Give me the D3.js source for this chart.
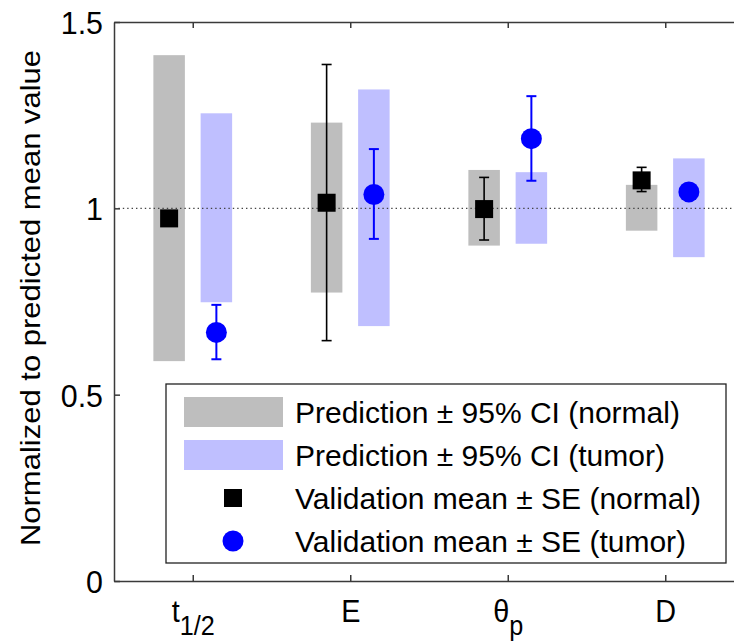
<!DOCTYPE html>
<html><head><meta charset="utf-8">
<script src="https://cdn.jsdelivr.net/npm/d3@7"></script>
<style>
body{margin:0;background:#fff}
svg{display:block}
text{font-family:Arial,"Liberation Sans",Helvetica,sans-serif;fill:#000}
</style></head>
<body>
<svg id="chart" width="734" height="643"></svg>
<script>
// ---- data ----
const categories = ["t1/2", "E", "θp", "D"];
const tickMain = ["t", "E", "θ", "D"];
const tickSub = ["1/2", "", "p", ""];
const normalCILow  = [0.590, 0.774, 0.900, 0.940];
const normalCIHigh = [1.411, 1.230, 1.103, 1.063];
const tumorCILow   = [0.748, 0.684, 0.905, 0.869];
const tumorCIHigh  = [1.255, 1.319, 1.097, 1.134];
const normalMean   = [0.973, 1.015, 0.998, 1.075];
const normalSELow  = [0.960, 0.645, 0.915, 1.045];
const normalSEHigh = [0.986, 1.386, 1.083, 1.110];
const tumorMean    = [0.667, 1.037, 1.187, 1.044];
const tumorSELow   = [0.595, 0.918, 1.074, 1.032];
const tumorSEHigh  = [0.741, 1.159, 1.301, 1.056];
const yTicks = [0, 0.5, 1, 1.5];
const yTickLabels = ["0", "0.5", "1", "1.5"];
const legendLabels = [
  "Prediction \u00B1 95% CI (normal)",
  "Prediction \u00B1 95% CI (tumor)",
  "Validation mean \u00B1 SE (normal)",
  "Validation mean \u00B1 SE (tumor)"
];

// ---- styles ----
const grayFill = "#bebebe", blueFill = "#bfbfff", blue = "#0000ff";
const axisColor = "#3a3a3a";
const fs = 32;

const svg = d3.select("#chart");
svg.append("rect").attr("width",734).attr("height",643).attr("fill","#fff");

const x = d3.scaleLinear().domain([0.5, 4.5]).range([114, 744]);
const y = d3.scaleLinear().domain([0, 1.5]).range([581, 22]);
const off = 0.15, bw = 0.2;
const idx = categories.map((c,i)=>i);
const pos = i => i + 1;

// CI bars
const plot = svg.append("g");
plot.selectAll(".nbar").data(idx).join("rect")
  .attr("x", i => x(pos(i) - off - bw/2)).attr("width", x(bw) - x(0))
  .attr("y", i => y(normalCIHigh[i])).attr("height", i => y(normalCILow[i]) - y(normalCIHigh[i]))
  .attr("fill", grayFill);
plot.selectAll(".tbar").data(idx).join("rect")
  .attr("x", i => x(pos(i) + off - bw/2)).attr("width", x(bw) - x(0))
  .attr("y", i => y(tumorCIHigh[i])).attr("height", i => y(tumorCILow[i]) - y(tumorCIHigh[i]))
  .attr("fill", blueFill);

// reference line
plot.append("line").attr("x1", x(0.5)).attr("x2", x(4.5)).attr("y1", y(1)).attr("y2", y(1))
  .attr("stroke", "#444").attr("stroke-width", 1.4).attr("stroke-dasharray", "1.4,3");

// error bars
function errBars(lo, hi, dx, color, w) {
  const g = plot.append("g").attr("stroke", color).attr("stroke-width", w).attr("fill","none");
  const cap = 5;
  g.selectAll("line.v").data(idx).join("line").attr("class","v")
    .attr("x1", i => x(pos(i)+dx)).attr("x2", i => x(pos(i)+dx))
    .attr("y1", i => y(lo[i])).attr("y2", i => y(hi[i]));
  g.selectAll("line.t").data(idx).join("line").attr("class","t")
    .attr("x1", i => x(pos(i)+dx)-cap).attr("x2", i => x(pos(i)+dx)+cap)
    .attr("y1", i => y(hi[i])).attr("y2", i => y(hi[i]));
  g.selectAll("line.b").data(idx).join("line").attr("class","b")
    .attr("x1", i => x(pos(i)+dx)-cap).attr("x2", i => x(pos(i)+dx)+cap)
    .attr("y1", i => y(lo[i])).attr("y2", i => y(lo[i]));
}
errBars(normalSELow, normalSEHigh, -off, "#000", 1.6);
errBars(tumorSELow, tumorSEHigh, off, blue, 2);

const sq = 18, cr = 10.5;
plot.selectAll(".sq").data(idx).join("rect")
  .attr("x", i => x(pos(i)-off) - sq/2).attr("y", i => y(normalMean[i]) - sq/2)
  .attr("width", sq).attr("height", sq).attr("fill", "#000");
plot.selectAll(".ci").data(idx).join("circle")
  .attr("cx", i => x(pos(i)+off)).attr("cy", i => y(tumorMean[i])).attr("r", cr)
  .attr("fill", blue);

// axes
const yAxis = d3.axisLeft(y).tickValues(yTicks).tickFormat((d,i)=>yTickLabels[i])
  .tickSizeInner(-6).tickSizeOuter(0).tickPadding(12);
const gy = svg.append("g").attr("transform", `translate(${x(0.5)},0)`).call(yAxis);
gy.selectAll("text").attr("font-size", fs).attr("dy", null)
  .attr("x", null).attr("text-anchor","end")
  .attr("transform", `translate(-11,${0.355*fs}) scale(0.95,1)`);

const xAxisB = d3.axisBottom(x).tickValues(idx.map(pos)).tickFormat("")
  .tickSizeInner(-6).tickSizeOuter(0);
const gxb = svg.append("g").attr("transform", `translate(0,${y(0)})`).call(xAxisB);
const xAxisT = d3.axisTop(x).tickValues(idx.map(pos)).tickFormat("")
  .tickSizeInner(-6).tickSizeOuter(0);
const gxt = svg.append("g").attr("transform", `translate(0,${y(1.5)})`).call(xAxisT);
[gy, gxb, gxt].forEach(g => {
  g.selectAll("path.domain").attr("stroke", axisColor).attr("stroke-width", 1.5);
  g.selectAll(".tick line").attr("stroke", axisColor).attr("stroke-width", 1.5);
});

// x tick labels with subscripts
gxb.selectAll(".tick").each(function(d, k) {
  const t = d3.select(this).append("text")
    .attr("text-anchor", "middle").attr("font-size", fs)
    .attr("transform", `translate(0,41) scale(0.9,1)`);
  t.append("tspan").text(tickMain[k]);
  if (tickSub[k]) t.append("tspan").attr("font-size", 28).attr("dy", 13).text(tickSub[k]);
});

// y label
svg.append("text").attr("text-anchor","middle").attr("font-size", 31)
  .attr("transform", `translate(40,298) rotate(-90) scale(1,0.9)`)
  .text("Normalized to predicted mean value");

// legend
const lg = svg.append("g");
lg.append("rect").attr("x", 166).attr("y", 384).attr("width", 560).attr("height", 179)
  .attr("fill", "#fff").attr("stroke", "#222").attr("stroke-width", 1.3);
const rowY = [412, 455, 498, 541];
lg.append("rect").attr("x", 184).attr("y", rowY[0]-15).attr("width", 99).attr("height", 30).attr("fill", grayFill);
lg.append("rect").attr("x", 184).attr("y", rowY[1]-15).attr("width", 99).attr("height", 30).attr("fill", blueFill);
lg.append("rect").attr("x", 233-sq/2).attr("y", rowY[2]-sq/2).attr("width", sq).attr("height", sq).attr("fill", "#000");
lg.append("circle").attr("cx", 233).attr("cy", rowY[3]).attr("r", cr).attr("fill", blue);
lg.selectAll("text.l").data(legendLabels).join("text").attr("class","l")
  .attr("font-size", 30)
  .attr("x", 295).attr("y", (d,i) => rowY[i] + 0.355*30)
  .text(d => d);
</script>
</body></html>
